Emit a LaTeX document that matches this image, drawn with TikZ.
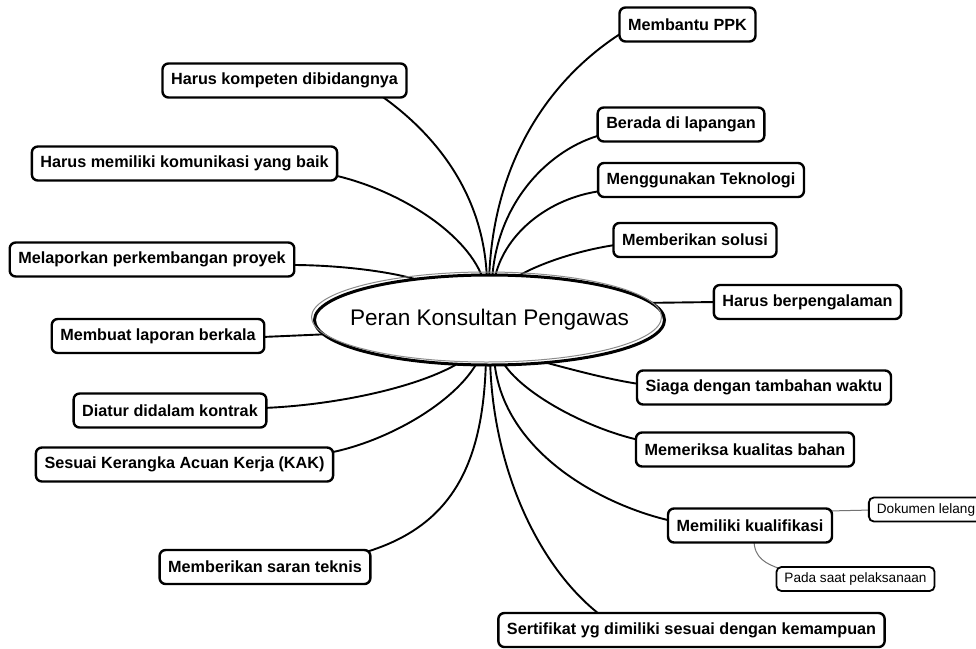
\documentclass[tikz,border=0pt]{standalone}
\usepackage{fontspec}
\setmainfont{Liberation Sans}
\usetikzlibrary{backgrounds}

\tikzset{
  topic/.style={draw=black, line width=2.4pt, rounded corners=6pt, fill=white,
    font=\bfseries\fontsize{16.2}{18}\selectfont, inner xsep=8.6pt, inner ysep=0pt,
    minimum height=34pt},
  subtopic/.style={draw=black, line width=1.8pt, rounded corners=5pt, fill=white,
    font=\fontsize{13.6}{15}\selectfont, inner xsep=8pt, inner ysep=0pt,
    minimum height=24pt},
  coretext/.style={inner sep=0pt, font=\fontsize{22.6}{26}\selectfont},
  corerim/.style={draw=black, line width=3pt, fill=white},
  coreshade/.style={draw=black!45, line width=1pt},
  link/.style={draw=black, line width=1.9pt},
  sublink/.style={draw=black!55, line width=1pt},
}

\begin{document}
\begin{tikzpicture}[x=1pt, y=-1pt, line cap=round]
\useasboundingbox (0,0) rectangle (976,648);

% central topic: white ellipse, black rim with an offset grey rim, title
\coordinate (hub) at (489.5,320);
\draw[corerim] (hub) ellipse [x radius=175, y radius=45];
\draw[coreshade] ([shift={(-3,-3)}]hub) ellipse [x radius=175, y radius=45];
\node[coretext] (core) at (hub) {Peran Konsultan Pengawas};

% right-hand branches
\node[topic] (ppk)      at (687.5,24.5) {Membantu PPK};
\node[topic] (berada)   at (681,124.5)  {Berada di lapangan};
\node[topic] (tekno)    at (701,180)    {Menggunakan Teknologi};
\node[topic] (solusi)   at (695,240)    {Memberikan solusi};
\node[topic] (alaman)   at (807.5,302)  {Harus berpengalaman};
\node[topic] (siaga)    at (764,387.5)  {Siaga dengan tambahan waktu};
\node[topic] (periksa)  at (745,449.5)  {Memeriksa kualitas bahan};
\node[topic] (kualif)   at (750,525.5)  {Memiliki kualifikasi};
\node[topic] (sertif)   at (691.5,630)  {Sertifikat yg dimiliki sesuai dengan kemampuan};

% sub-branches of "Memiliki kualifikasi"
\node[subtopic] (lelang) at (926,509.5) {Dokumen lelang};
\node[subtopic] (pelaks) at (855.5,579) {Pada saat pelaksanaan};

% left-hand branches
\node[topic] (kompeten) at (284.5,80.5) {Harus kompeten dibidangnya};
\node[topic] (komunik)  at (184.5,163.5) {Harus memiliki komunikasi yang baik};
\node[topic] (lapor)    at (152,259.5)  {Melaporkan perkembangan proyek};
\node[topic] (berkala)  at (158,336)    {Membuat laporan berkala};
\node[topic] (kontrak)  at (170,410.5)  {Diatur didalam kontrak};
\node[topic] (kak)      at (184.5,464.5) {Sesuai Kerangka Acuan Kerja (KAK)};
\node[topic] (saran)    at (265,567)    {Memberikan saran teknis};

\begin{pgfonlayer}{background}
  \fill[white] (0,0) rectangle (976,648);

  % upper fan, right
  \draw[link] ([shift={(-0.5,-38)}]core.center) .. controls +(3,-116) and +(-74,48) .. ([shift={(-67.5,9.5)}]ppk.center);
  \draw[link] ([shift={(2.5,-38)}]core.center) .. controls +(4,-82) and +(-49,13) .. ([shift={(-80,10.5)}]berada.center);
  \draw[link] ([shift={(4.5,-38)}]core.center) .. controls +(8,-47) and +(-53,7) .. ([shift={(-100,11)}]tekno.center);
  \draw[link] ([shift={(15.5,-35)}]core.center) .. controls +(20,-17) and +(-47,6) .. ([shift={(-73,4)}]solusi.center);

  % upper fan, left
  \draw[link] ([shift={(-2.5,-38)}]core.center) .. controls +(-2,-92) and +(50,35) .. ([shift={(95.5,14.5)}]kompeten.center);
  \draw[link] ([shift={(-5.5,-38)}]core.center) .. controls +(-14,-47) and +(67,15) .. ([shift={(148.5,11.5)}]komunik.center);
  \draw[link] ([shift={(-59.5,-36)}]core.center) .. controls +(-30,-12) and +(48,0) .. ([shift={(140,5.5)}]lapor.center);

  % side branches
  \draw[link] ([shift={(-158,14)}]core.center) -- ([shift={(104,1)}]berkala.center);
  \draw[link] ([shift={(150,-17)}]core.center) -- ([shift={(-91.5,0)}]alaman.center);

  % lower fan, right
  \draw[link] ([shift={(38.5,38)}]core.center) .. controls +(32,8) and +(-39,-6) .. ([shift={(-125,-3.5)}]siaga.center);
  \draw[link] ([shift={(10.5,37)}]core.center) .. controls +(15,33) and +(-54,-12) .. ([shift={(-106,-9.5)}]periksa.center);
  \draw[link] ([shift={(4.5,37)}]core.center) .. controls +(6,93) and +(-72,-16) .. ([shift={(-78,-4.5)}]kualif.center);
  \draw[link] ([shift={(0.5,37)}]core.center) .. controls +(2,113) and +(-63,-47) .. ([shift={(-88.5,-13)}]sertif.center);

  % lower fan, left
  \draw[link] ([shift={(-21.5,37)}]core.center) .. controls +(-38,28) and +(77,-3) .. ([shift={(93,-2.5)}]kontrak.center);
  \draw[link] ([shift={(-9.5,37)}]core.center) .. controls +(-20,43) and +(57,-12) .. ([shift={(148.5,-12.5)}]kak.center);
  \draw[link] ([shift={(-3.5,37)}]core.center) .. controls +(-2,103) and +(89,-27) .. ([shift={(101,-15)}]saran.center);

  % sub-branch links
  \draw[sublink] ([shift={(78,-14.5)}]kualif.center) -- ([shift={(-54,0.5)}]lelang.center);
  \draw[sublink] ([shift={(4,14.5)}]kualif.center) .. controls +(0,18) and +(-15,-5) .. ([shift={(-74.5,-10)}]pelaks.center);
\end{pgfonlayer}
\end{tikzpicture}
\end{document}
